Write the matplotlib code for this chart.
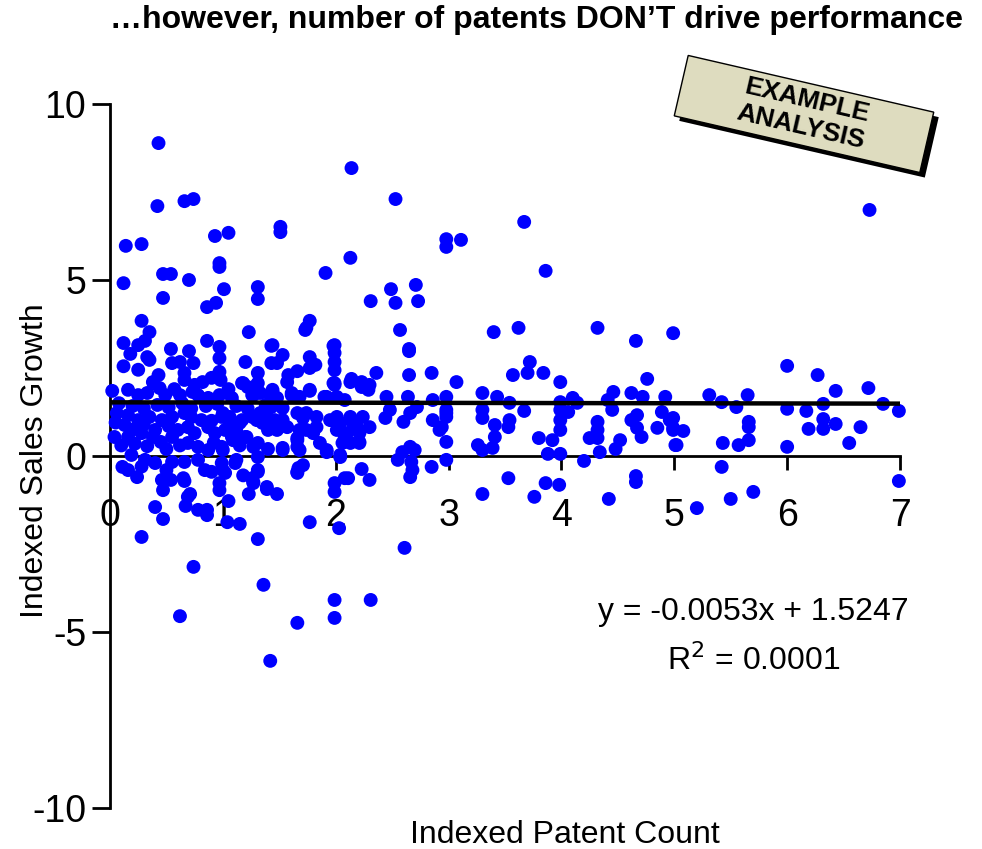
import matplotlib
matplotlib.use("Agg")
import matplotlib.pyplot as plt
from matplotlib.patches import Rectangle
from matplotlib.transforms import Affine2D

plt.rcParams['font.family'] = ['Liberation Sans', 'DejaVu Sans']
plt.rcParams['axes.unicode_minus'] = False

# scatter values, grouped by region
xa = [0.43, 0.42, 0.66, 0.74, 0.93, 1.05, 0.14, 0.28, 0.12, 0.47, 0.54, 0.70,
      0.47, 0.86, 0.94, 0.97, 0.97, 1.01, 0.28, 0.35, 0.12, 0.25, 0.31, 0.54,
      0.70, 0.86, 0.97, 1.23, 1.31, 1.31, 1.43, 1.51, 1.51, 1.74, 1.77, 1.91,
      1.98, 2.14, 2.13, 2.53, 3.67, 2.98, 2.98, 3.11, 3.86, 2.49, 2.71, 2.31,
      2.53, 2.73, 2.57, 2.65, 3.40, 3.62, 4.32, 4.66, 6.73, 4.99, 6.00, 6.27,
      6.72, 1.73, 1.99, 1.99, 1.99, 1.99, 1.99]
ya = [8.89, 7.10, 7.24, 7.30, 6.25, 6.34, 5.97, 6.02, 4.91, 5.17, 5.17, 5.00,
      4.49, 4.23, 4.35, 5.48, 5.37, 4.74, 3.84, 3.52, 3.21, 3.15, 3.27, 3.04,
      2.98, 3.27, 3.10, 3.52, 4.80, 4.46, 3.13, 6.51, 6.36, 3.64, 3.84, 5.20,
      3.13, 8.18, 5.63, 7.30, 6.65, 6.16, 5.94, 6.14, 5.26, 4.74, 4.86, 4.40,
      4.35, 4.40, 3.58, 3.04, 3.52, 3.64, 3.64, 3.27, 6.99, 3.49, 2.56, 2.30,
      1.93, 3.58, 3.15, 2.93, 2.67, 2.44, 2.07]

xb = [0.18, 0.33, 0.35, 0.55, 0.62, 0.74, 0.97, 1.20, 1.31, 1.43, 0.43, 0.66,
      0.66, 0.75, 0.82, 0.90, 0.97, 0.98, 1.17, 1.22, 1.31, 1.33, 0.02, 0.16,
      0.25, 0.33, 0.44, 0.49, 0.62, 0.73, 0.78, 0.87, 0.97, 1.08, 1.26, 1.42,
      0.06, 0.16, 0.13, 0.25, 0.35, 0.46, 0.40, 0.04, 0.16, 0.28, 0.38, 0.55,
      0.66, 0.60, 0.69, 0.75, 0.55, 0.81, 0.87, 0.93, 0.99, 1.05, 1.08, 1.17,
      1.26, 1.35, 1.40, 1.20, 1.31, 0.69, 0.78, 0.87, 0.99, 0.19]
yb = [2.90, 2.81, 2.73, 2.64, 2.67, 2.64, 2.78, 2.67, 2.36, 2.64, 2.30, 2.36,
      2.16, 2.02, 2.10, 2.22, 2.39, 2.16, 2.07, 1.96, 2.07, 1.79, 1.85, 1.88,
      1.73, 1.79, 1.93, 1.73, 1.73, 1.82, 1.73, 1.65, 1.73, 1.65, 1.73, 1.73,
      1.22, 1.16, 0.88, 1.02, 1.11, 1.02, 0.74, 0.54, 0.54, 0.65, 0.54, 1.11,
      1.22, 0.74, 0.82, 0.65, 0.54, 1.02, 0.82, 0.65, 1.11, 0.82, 0.54, 1.02,
      1.11, 0.94, 0.74, 0.54, 0.37, 0.37, 0.26, 0.17, 0.26, 0.03]

# extra points filling the dense cluster near the origin
xh = [0.08, 0.20, 0.30, 0.42, 0.52, 0.64, 0.72, 0.85, 0.95, 1.12, 1.22, 1.38,
      0.10, 0.22, 0.33, 0.45, 0.50, 0.62, 0.92, 1.15, 1.40, 0.05, 0.30, 0.52,
      0.72, 0.90, 1.12, 0.20, 0.28, 0.50, 0.90, 1.18, 0.57, 1.05, 0.38, 0.12,
      0.25]
yh = [1.50, 1.42, 1.35, 1.45, 1.38, 1.50, 1.35, 1.42, 1.48, 1.42, 1.35, 1.45,
      0.30, 0.35, 0.28, 0.40, 0.20, 0.30, 0.38, 0.30, 0.20, 0.95, 0.90, 0.85,
      1.10, 1.00, 0.70, 0.75, -0.30, -0.40, -0.45, -0.55, 1.90, 1.90, 2.10, 2.55,
      2.45]

xc = [0.31, 0.40, 0.55, 0.66, 0.11, 0.24, 0.78, 0.84, 0.99, 1.02, 1.11, 1.31,
      1.26, 0.54, 0.65, 0.16, 0.46, 0.47, 0.66, 0.71, 0.69, 0.40, 0.67, 0.78,
      0.86, 0.86, 0.47, 0.28, 0.97, 0.97, 1.05, 1.04, 1.15, 1.23, 1.27, 1.39,
      1.48, 1.31, 0.74, 1.36, 0.62, 1.66, 1.42, 1.66, 1.77, 1.99, 1.99, 2.11,
      2.03, 1.99, 1.99, 2.31, 2.61]
yc = [-0.11, -0.20, -0.17, -0.17, -0.31, -0.60, -0.11, -0.40, -0.20, -0.48, -0.20, -0.40,
      -0.63, -0.68, -0.63, -0.40, -0.68, -0.97, -0.71, -1.08, -1.16, -1.45, -1.42, -1.53,
      -1.53, -1.68, -1.79, -2.30, -0.77, -0.97, -1.28, -1.88, -1.93, -1.08, -0.77, -0.94,
      -1.08, -2.36, -3.15, -3.66, -4.55, -4.74, -5.82, -0.48, -1.88, -0.77, -1.02, -0.63,
      -2.05, -4.09, -4.60, -4.09, -2.61]

xd = [1.18, 1.30, 1.27, 1.44, 1.48, 1.57, 1.61, 1.68, 1.77, 1.98, 1.92, 2.01,
      1.00, 1.06, 1.02, 1.09, 1.00, 1.12, 1.15, 1.21, 1.27, 1.31, 1.30, 1.39,
      1.46, 1.48, 1.33, 1.43, 1.53, 1.66, 1.74, 1.83, 1.57, 1.68, 1.66, 1.68,
      1.53, 1.80, 1.86, 1.92, 2.04, 2.10, 2.06, 2.04, 1.31, 1.27, 1.39, 1.67,
      1.71, 2.08, 1.00, 1.44, 1.53, 1.48, 1.77, 1.82, 1.77, 1.58, 1.66, 1.77,
      1.44, 1.61, 1.90, 2.08, 1.46, 1.53, 1.71, 1.74, 1.66, 1.66, 1.83, 1.95,
      1.92, 2.01, 2.15, 2.21, 2.21, 2.30, 1.53, 1.66]
yd = [2.07, 2.02, 1.73, 1.88, 1.65, 2.10, 1.79, 1.68, 1.88, 2.07, 1.68, 1.68,
      1.22, 1.11, 0.74, 0.45, 0.17, -0.11, 0.94, 0.54, 0.26, -0.03, 1.02, 1.11,
      1.02, 0.74, 1.22, 1.39, 1.36, 1.22, 1.22, 1.11, 0.82, 0.74, 0.45, 0.17,
      0.17, 0.65, 0.37, 0.17, 0.94, 0.65, 0.37, 0.03, -0.45, -0.74, -0.88, -0.34,
      -0.26, -0.63, -0.40, 3.15, 2.87, 2.64, 2.81, 2.59, 2.50, 2.30, 2.41, 1.85,
      1.82, 1.73, 1.68, 1.59, 0.94, 1.02, 1.08, 0.74, 0.51, 0.26, 0.82, 1.02,
      0.11, 0.74, 0.94, 0.65, 0.37, 0.82, 0.23, -0.45]

xe = [1.99, 2.13, 2.23, 2.30, 2.29, 2.45, 2.64, 2.72, 2.86, 2.98, 2.01, 2.08,
      2.13, 2.19, 2.24, 2.21, 2.13, 2.44, 2.48, 2.60, 2.66, 2.86, 2.92, 2.98,
      2.98, 2.59, 2.66, 2.70, 2.55, 2.67, 2.68, 2.66, 2.04, 2.23, 2.30, 2.85,
      2.98, 2.14, 2.23, 2.36, 2.65, 2.65, 2.85]
ye = [2.02, 2.10, 1.96, 2.02, 1.88, 1.68, 1.68, 1.39, 1.59, 1.68, 1.11, 0.54,
      1.11, 0.82, 1.11, 0.40, 0.37, 1.08, 1.31, 0.97, 1.22, 1.02, 0.74, 1.22,
      0.40, 0.11, 0.26, 0.17, -0.11, -0.17, -0.40, -0.60, -0.03, -0.37, -0.68, -0.31,
      -0.11, 2.19, 2.10, 2.36, 2.98, 2.30, 2.36]

xf = [3.72, 3.57, 3.70, 3.84, 3.07, 3.99, 4.76, 3.30, 3.43, 2.98, 2.98, 2.94,
      3.30, 3.30, 3.41, 3.41, 3.39, 3.26, 3.30, 3.54, 3.54, 3.53, 3.67, 3.80,
      3.92, 3.88, 3.99, 3.99, 3.99, 3.99, 3.99, 4.10, 4.14, 4.06, 4.20, 4.25,
      4.32, 4.32, 4.32, 4.34, 4.41, 4.46, 4.45, 4.52, 4.48, 4.62, 4.72, 4.67,
      4.62, 4.67, 4.71, 4.92, 4.89, 4.85, 4.96, 4.99, 5.01, 3.53, 3.30, 3.86,
      3.98, 3.76, 4.66, 4.66, 4.42]
yf = [2.67, 2.30, 2.36, 2.36, 2.10, 2.10, 2.19, 1.79, 1.68, 1.31, 1.11, 0.82,
      1.31, 1.08, 0.88, 0.54, 0.23, 0.31, 0.17, 1.51, 1.02, 0.82, 1.28, 0.51,
      0.45, 0.06, 0.06, 1.31, 1.02, 0.74, 1.53, 1.65, 1.51, 1.25, -0.14, 0.51,
      0.97, 0.74, 0.51, 0.11, 1.59, 1.82, 1.31, 0.45, 0.20, 1.79, 1.68, 1.16,
      1.02, 0.80, 0.54, 1.68, 1.25, 0.80, 1.02, 0.74, 0.31, -0.63, -1.08, -0.77,
      -0.82, -1.16, -0.57, -0.74, -1.22]

xg = [5.31, 5.42, 5.55, 5.65, 6.00, 6.17, 6.32, 6.43, 6.85, 6.99, 4.99, 4.99,
      5.08, 5.02, 5.66, 5.66, 5.66, 5.57, 5.43, 6.00, 6.19, 6.32, 6.32, 6.43,
      6.65, 6.55, 5.42, 6.99, 5.20, 5.50, 5.70]
yg = [1.73, 1.53, 1.39, 1.73, 1.34, 1.28, 1.48, 1.85, 1.48, 1.28, 1.08, 0.80,
      0.71, 0.31, 0.97, 0.82, 0.45, 0.31, 0.37, 0.26, 0.77, 1.05, 0.77, 0.91,
      0.82, 0.37, -0.31, -0.71, -1.48, -1.22, -1.02]

patent_count = xa + xb + xh + xc + xd + xe + xf + xg
sales_growth = ya + yb + yh + yc + yd + ye + yf + yg

# trend line as printed on the chart
slope = -0.0053
intercept = 1.5247
trend_x = [0, 7]

x_ticks = [0, 1, 2, 3, 4, 5, 6, 7]
y_ticks = [-10, -5, 0, 5, 10]

fig = plt.figure(figsize=(9.82, 8.49), dpi=100)
ax = fig.add_axes([0.1120, 0.0483, 0.8045, 0.8292])

ax.scatter(patent_count, sales_growth, s=100, color='#0000FF', edgecolors='none',
           zorder=3, clip_on=False)
ax.plot(trend_x, [slope * v + intercept for v in trend_x], color='black', lw=3.2, zorder=4)

ax.set_xlim(0, 7)
ax.set_ylim(-10, 10)
ax.spines['top'].set_visible(False)
ax.spines['right'].set_visible(False)
ax.spines['bottom'].set_position(('data', 0))
ax.spines['left'].set_linewidth(2)
ax.spines['bottom'].set_linewidth(2)

ax.set_xticks(x_ticks)
ax.set_xticklabels([str(t) for t in x_ticks])
ax.set_yticks(y_ticks)
ax.set_yticklabels([str(t) for t in y_ticks])
ax.tick_params(axis='x', direction='out', length=10, width=2, pad=20, labelsize=27)
ax.tick_params(axis='y', direction='out', length=13, width=2, pad=4, labelsize=27)

fig.text(0.546, 0.976, '\u2026however, number of patents DON\u2019T drive performance',
         ha='center', va='center', fontsize=23, fontweight='bold')
fig.text(0.575, 0.017, 'Indexed Patent Count', ha='center', va='center', fontsize=23)
fig.text(0.036, 0.458, 'Indexed Sales Growth', ha='center', va='center',
         rotation=90, fontsize=23)

ax.text(5.70, -4.43, 'y = -0.0053x + 1.5247', ha='center', va='center', fontsize=23)
ax.text(5.70, -5.80, 'R$^2$ = 0.0001', ha='center', va='center', fontsize=23)

# "EXAMPLE ANALYSIS" stamp, positioned in inches
cx, cy = 8.04, 7.35
bw, bh = 2.52, 0.62
shadow = Rectangle((cx - bw / 2, cy - bh / 2), bw, bh, facecolor='black', edgecolor='none',
                   transform=Affine2D().rotate_deg_around(cx, cy, -13).translate(0.05, -0.05)
                   + fig.dpi_scale_trans)
stamp = Rectangle((cx - bw / 2, cy - bh / 2), bw, bh, facecolor='#DEDCBF', edgecolor='black',
                  lw=1, transform=Affine2D().rotate_deg_around(cx, cy, -13) + fig.dpi_scale_trans)
fig.add_artist(shadow)
fig.add_artist(stamp)
fig.text(cx / 9.82, cy / 8.49, 'EXAMPLE\nANALYSIS', rotation=-13, rotation_mode='anchor',
         ha='center', va='center', multialignment='center', fontsize=19,
         fontweight='bold', linespacing=1.15)

fig.savefig('out.png', dpi=100)
